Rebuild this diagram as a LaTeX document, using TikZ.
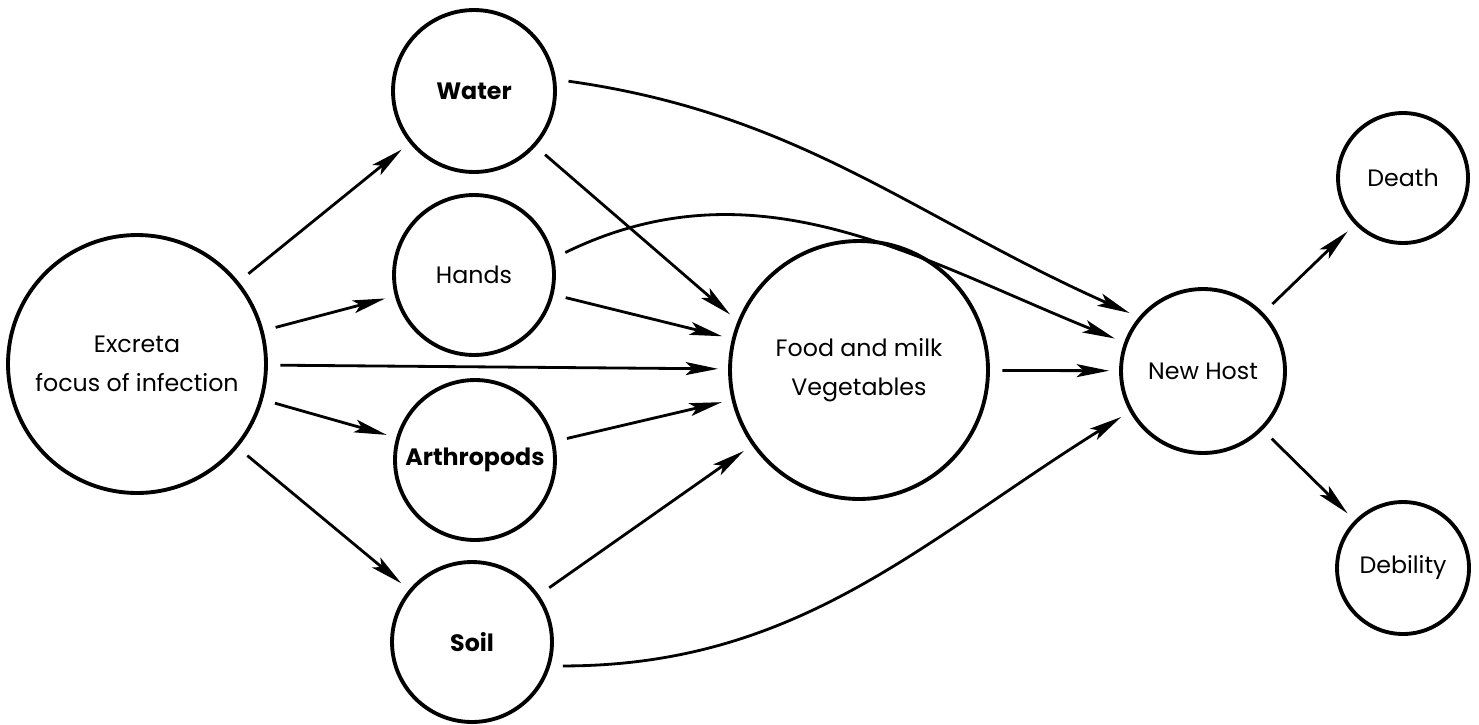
\documentclass[tikz,border=0pt]{standalone}
\usepackage{fontspec}
\setmainfont{Poppins}
\usetikzlibrary{arrows.meta}

\begin{document}
\begin{tikzpicture}[x=0.02cm, y=-0.02cm,
  stage/.style={draw, circle, line width=2.2pt, inner sep=0pt, align=center,
    font=\fontsize{13.5}{22}\selectfont},
  route/.style={line width=1.6pt, -{Stealth[length=6.5mm, width=2.6mm, inset=1.4mm]},
    shorten >=0.2cm, shorten <=0.25cm}]

% keep the page as large as the drawing
\useasboundingbox (0,0) rectangle (1479,724);

% source of infection
\node[stage, minimum size=5.16cm] (excreta) at (137,364) {Excreta\\focus of infection};

% the carriers
\node[stage, minimum size=3.24cm] (water) at (474,91) {\bfseries Water};
\node[stage, minimum size=3.2cm] (hands) at (474,275) {Hands};
\node[stage, minimum size=3.2cm] (arthropods) at (475,460) {\bfseries Arthropods};
\node[stage, minimum size=3.2cm] (soil) at (472,642) {\bfseries Soil};

% food and the new host
\node[stage, minimum size=5.16cm] (food) at (859,370) {Food and milk\\Vegetables};
\node[stage, minimum size=3.28cm] (host) at (1203,371) {New Host};

% outcomes
\node[stage, minimum size=2.6cm] (death) at (1403,178) {Death};
\node[stage, minimum size=2.64cm] (debility) at (1403,568) {Debility};

% from the excreta
\draw[route] (excreta) -- (water);
\draw[route] (excreta) -- (hands);
\draw[route] (excreta) -- (food);
\draw[route] (excreta) -- (arthropods);
\draw[route] (excreta) -- (soil);

% into the food
\draw[route] (water.-42) -- (food.158);
\draw[route] (hands) -- (food);
\draw[route] (arthropods) -- (food);
\draw[route] (soil) -- (food);

% straight to the new host
\draw[route] (water.8) to[out=-8, in=156] (host.140);
\draw[route] (hands.12) to[out=26, in=158] (host.160);
\draw[route] (soil.-17) to[out=0, in=212] (host.209);
\draw[route] (food) -- (host);

% what follows
\draw[route] (host) -- (death);
\draw[route] (host) -- (debility);

\end{tikzpicture}
\end{document}
